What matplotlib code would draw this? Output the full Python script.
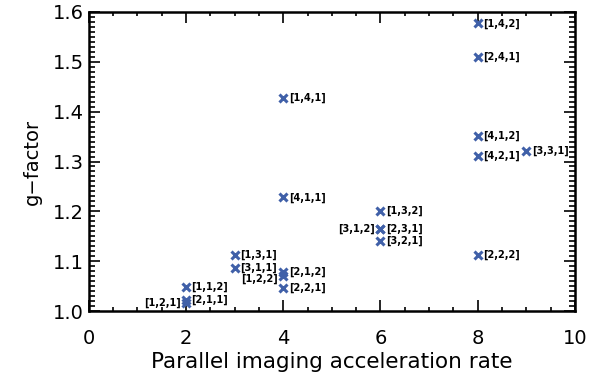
import matplotlib

matplotlib.use("Agg")
import matplotlib.pyplot as plt  # noqa: E402
from matplotlib.ticker import MultipleLocator  # noqa: E402

# acceleration rate, g-factor, label for each sampling pattern
rate = [8, 8, 4, 8, 8, 9, 4, 6, 6, 6, 6, 8, 3, 3, 4, 4, 4, 2, 2, 2]
gfac = [1.577, 1.509, 1.427, 1.352, 1.312, 1.322, 1.228, 1.201, 1.164, 1.164,
        1.141, 1.113, 1.113, 1.087, 1.079, 1.070, 1.046, 1.048, 1.022, 1.017]
pattern = ["[1,4,2]", "[2,4,1]", "[1,4,1]", "[4,1,2]", "[4,2,1]", "[3,3,1]",
           "[4,1,1]", "[1,3,2]", "[2,3,1]", "[3,1,2]", "[3,2,1]", "[2,2,2]",
           "[1,3,1]", "[3,1,1]", "[2,1,2]", "[1,2,2]", "[2,2,1]", "[1,1,2]",
           "[2,1,1]", "[1,2,1]"]
left_side = {"[3,1,2]", "[1,2,2]", "[1,2,1]"}

fig = plt.figure(figsize=(5.92, 3.73), dpi=100)
ax = fig.add_axes([0.150, 0.166, 0.821, 0.802])

ax.plot(rate, gfac, ls="none", marker="x", ms=5.5, mew=2.2, color="#4060A8")
for x, y, s in zip(rate, gfac, pattern):
    if s in left_side:
        dy = -2 if s == "[1,2,2]" else 0
        ax.annotate(s, (x, y), xytext=(-4, dy), textcoords="offset points",
                    ha="right", va="center", fontsize=7, fontweight="bold")
    else:
        ax.annotate(s, (x, y), xytext=(4, 0), textcoords="offset points",
                    ha="left", va="center", fontsize=7, fontweight="bold")

ax.set_xlim(0, 10)
ax.set_ylim(1.0, 1.6)
ax.xaxis.set_major_locator(MultipleLocator(2))
ax.xaxis.set_minor_locator(MultipleLocator(0.5))
ax.yaxis.set_major_locator(MultipleLocator(0.1))
ax.yaxis.set_minor_locator(MultipleLocator(0.01))
ax.yaxis.set_major_formatter(plt.FormatStrFormatter("%.1f"))
ax.tick_params(which="both", direction="in", top=True, right=True, labelsize=14, width=1.2)
ax.tick_params(which="major", length=8)
ax.tick_params(which="minor", length=4)
ax.tick_params(axis="x", which="major", pad=13)
ax.tick_params(axis="x", which="minor", length=3)
for sp in ax.spines.values():
    sp.set_linewidth(1.8)

ax.set_xlabel("Parallel imaging acceleration rate", fontsize=15.5, labelpad=3)
ax.set_ylabel("g\u2212factor", fontsize=14, labelpad=8)

fig.savefig("out.png", dpi=100)
